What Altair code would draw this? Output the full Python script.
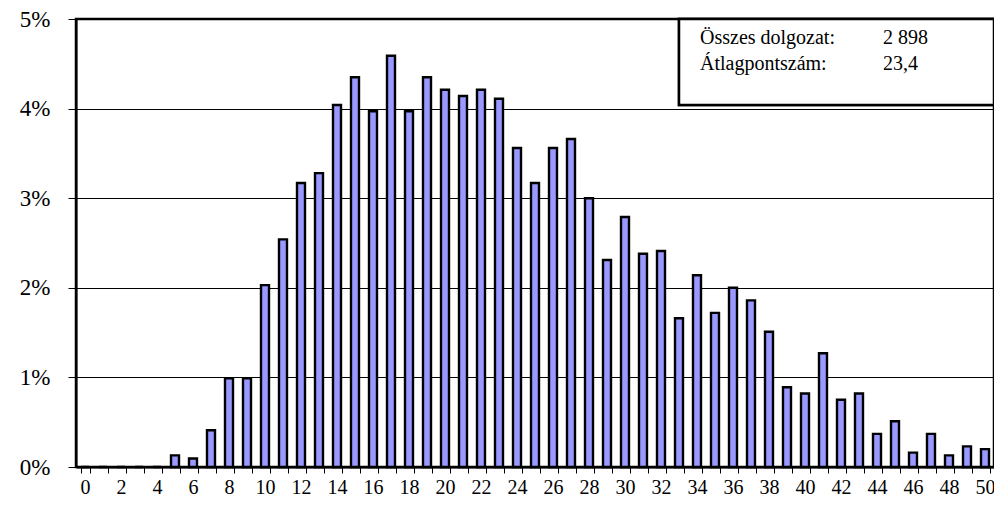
import altair as alt
import pandas as pd

points = list(range(51))
share_pct = [0, 0, 0, 0, 0, 0.13, 0.095, 0.41, 0.99, 0.99,
             2.03, 2.54, 3.17, 3.28, 4.04, 4.35, 3.97, 4.59, 3.97, 4.35,
             4.21, 4.14, 4.21, 4.11, 3.56, 3.17, 3.56, 3.66, 3.00, 2.31,
             2.79, 2.38, 2.41, 1.66, 2.14, 1.72, 2.00, 1.86, 1.51, 0.89,
             0.82, 1.27, 0.75, 0.82, 0.37, 0.51, 0.16, 0.37, 0.13, 0.23,
             0.20]
info_labels = ["Összes dolgozat:", "Átlagpontszám:"]
info_values = ["2 898", "23,4"]

df = pd.DataFrame({"pont": points, "arany": share_pct})
info = pd.DataFrame({"label": info_labels, "value": info_values, "row": [0, 1]})

FONT = "Liberation Serif"
W, H = 918, 448

bars = alt.Chart(df).mark_bar(
    color="#9999FF", stroke="black", strokeWidth=2.4, size=8
).encode(
    x=alt.X("pont:O", sort=points, title=None,
            scale=alt.Scale(paddingInner=0.5, paddingOuter=0.25),
            axis=alt.Axis(labelAngle=0, tickBand="extent",
                          labelExpr="datum.value % 2 == 0 ? datum.label : ''",
                          labelFont=FONT, labelFontSize=20, labelColor="black",
                          labelPadding=4, tickSize=6, tickColor="black",
                          domainColor="black", domainWidth=2, grid=False)),
    y=alt.Y("arany:Q", title=None,
            scale=alt.Scale(domain=[0, 5], nice=False),
            axis=alt.Axis(values=[0, 1, 2, 3, 4, 5],
                          labelExpr="datum.value + '%'",
                          labelFont=FONT, labelFontSize=23, labelColor="black",
                          labelPadding=18, tickSize=8, tickColor="black",
                          domainColor="black", domainWidth=2,
                          grid=True, gridColor="black", gridWidth=1, gridOpacity=1)),
)

box = alt.Chart(info).mark_rect(
    fill="white", stroke="black", strokeWidth=2.5
).encode(
    x=alt.value(603), x2=alt.value(W), y=alt.value(0), y2=alt.value(86)
)

row_scale = alt.Scale(domain=[0, 1], range=[25, 51])

labels = alt.Chart(info).mark_text(
    align="left", baseline="alphabetic", font=FONT, fontSize=20, color="black"
).encode(
    x=alt.value(624),
    y=alt.Y("row:Q", axis=None, scale=row_scale),
    text="label:N",
)

values = alt.Chart(info).mark_text(
    align="left", baseline="alphabetic", font=FONT, fontSize=20, color="black"
).encode(
    x=alt.value(807),
    y=alt.Y("row:Q", axis=None, scale=row_scale),
    text="value:N",
)

chart = alt.layer(bars, box + labels + values).resolve_scale(y="independent").properties(
    width=W, height=H,
    autosize=alt.AutoSizeParams(type="none"),
    padding={"left": 68, "top": 11, "right": 0, "bottom": 32},
).configure_view(stroke="black", strokeWidth=2.5)

chart.save("out.html", embed_options={"renderer": "svg", "actions": False})
